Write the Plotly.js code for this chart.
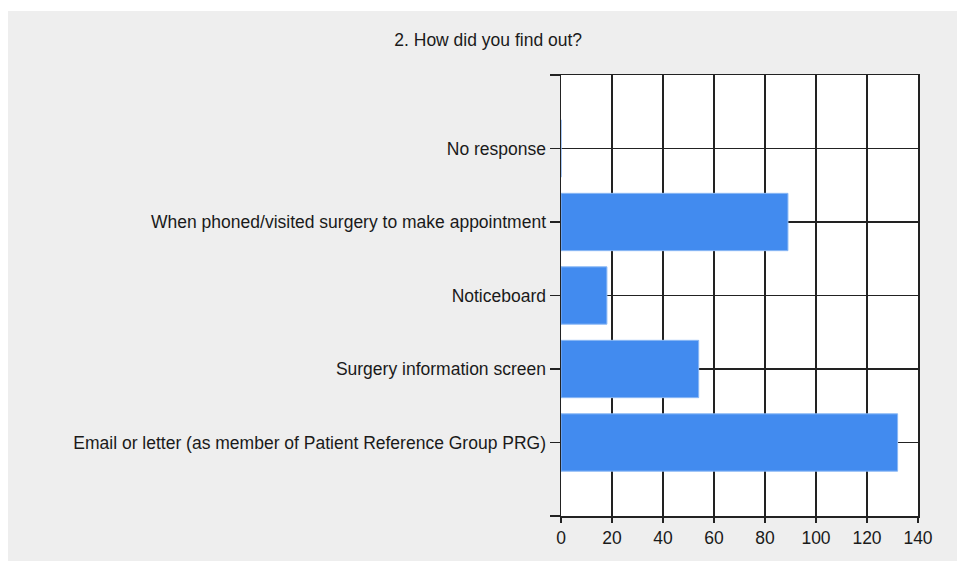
<!DOCTYPE html>
<html>
<head>
<meta charset="utf-8">
<script src="https://cdn.plot.ly/plotly-3.0.1.min.js"></script>
<style>
  html, body { margin: 0; padding: 0; background: #ffffff; width: 957px; height: 561px; overflow: hidden; }
  #chart { position: absolute; left: 8px; top: 11px; width: 949px; height: 550px; }
</style>
</head>
<body>
<div id="chart"></div>
<script>
// Categories from bottom to top
const categories = [
  "Email or letter (as member of Patient Reference Group PRG)",
  "Surgery information screen",
  "Noticeboard",
  "When phoned/visited surgery to make appointment",
  "No response"
];
const counts = [132, 54, 18, 89, 0];
const xTicks = [0, 20, 40, 60, 80, 100, 120, 140];
const chartTitle = "2. How did you find out?";

const positions = categories.map((c, i) => i + 1);
const tickVals = [0].concat(positions, [categories.length + 1]);
const tickText = [""].concat(categories, [""]);

const font = { family: "Liberation Sans, Arial, sans-serif", size: 17.5, color: "#1a1a1a" };

const trace = {
  type: "bar",
  orientation: "h",
  x: counts,
  y: positions,
  width: 0.78,
  marker: { color: "#428bef", line: { color: "#8ab8f5", width: 1 } },
  hoverinfo: "x+text",
  text: categories,
  textposition: "none"
};

const layout = {
  width: 949,
  height: 550,
  paper_bgcolor: "#eeeeee",
  plot_bgcolor: "#ffffff",
  font: font,
  showlegend: false,
  margin: { l: 553, r: 39, t: 64, b: 45, pad: 0 },
  title: {
    text: chartTitle,
    font: font,
    xref: "container",
    yref: "container",
    x: 0.506,
    xanchor: "center",
    y: 0.947,
    yanchor: "middle"
  },
  xaxis: {
    range: [0, 140],
    tickvals: xTicks,
    ticktext: xTicks.map(String),
    showgrid: true,
    gridcolor: "#222222",
    gridwidth: 1.5,
    zeroline: false,
    showline: true,
    linecolor: "#222222",
    linewidth: 1.5,
    mirror: true,
    ticks: "outside",
    ticklen: 5,
    tickwidth: 1.5,
    tickcolor: "#222222",
    tickfont: font,
    fixedrange: true
  },
  yaxis: {
    range: [0, categories.length + 1],
    tickvals: tickVals,
    ticktext: tickText,
    showgrid: true,
    gridcolor: "#222222",
    gridwidth: 1.5,
    zeroline: false,
    showline: true,
    linecolor: "#222222",
    linewidth: 1.5,
    mirror: true,
    ticks: "outside",
    ticklen: 10,
    tickwidth: 1.5,
    tickcolor: "#222222",
    tickfont: font,
    fixedrange: true
  }
};

Plotly.newPlot("chart", [trace], layout, { displayModeBar: false, staticPlot: true });
</script>
</body>
</html>
